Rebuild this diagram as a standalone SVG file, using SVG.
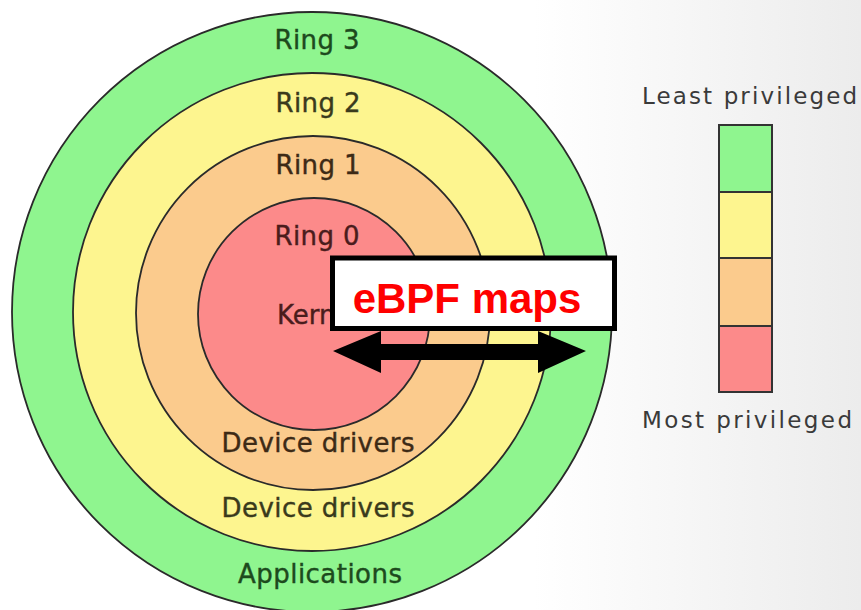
<svg xmlns="http://www.w3.org/2000/svg" width="861" height="610" viewBox="0 0 861 610">
  <defs>
    <linearGradient id="bg" x1="0" y1="0" x2="1" y2="0">
      <stop offset="0.62" stop-color="#ffffff"/>
      <stop offset="1" stop-color="#ececec"/>
    </linearGradient>
    <style>
      .ring { stroke: #2a2a2a; stroke-width: 1.8; }
      .lbl { font-family: "DejaVu Sans", "Liberation Sans", sans-serif; font-size: 26px; text-anchor: middle; stroke-width: 0.4; }
      .leg { font-family: "DejaVu Sans", "Liberation Sans", sans-serif; font-size: 23px; fill: #3a3a3a; }
      .g { fill: #8ff58f; } .y { fill: #fdf58f; } .o { fill: #fbcb8d; } .r { fill: #fc8a8a; }
    </style>
  </defs>
  <rect x="0" y="0" width="861" height="610" fill="url(#bg)"/>

  <g id="ring3">
    <circle class="ring g" cx="312" cy="312" r="300"/>
    <text class="lbl" x="317" y="49" fill="#1d4a1d" stroke="#1d4a1d" textLength="85" lengthAdjust="spacing">Ring 3</text>
    <text class="lbl" x="320" y="583" fill="#1d4a1d" stroke="#1d4a1d" textLength="164" lengthAdjust="spacing">Applications</text>
  </g>
  <g id="ring2">
    <circle class="ring y" cx="312" cy="312" r="239"/>
    <text class="lbl" x="318" y="112" fill="#3a3a1c" stroke="#3a3a1c" textLength="85" lengthAdjust="spacing">Ring 2</text>
    <text class="lbl" x="318" y="517" fill="#3a3a1c" stroke="#3a3a1c" textLength="193" lengthAdjust="spacing">Device drivers</text>
  </g>
  <g id="ring1">
    <circle class="ring o" cx="313" cy="313" r="177"/>
    <text class="lbl" x="318" y="174" fill="#3d2a16" stroke="#3d2a16" textLength="85" lengthAdjust="spacing">Ring 1</text>
    <text class="lbl" x="318" y="452" fill="#3d2a16" stroke="#3d2a16" textLength="193" lengthAdjust="spacing">Device drivers</text>
  </g>
  <g id="ring0">
    <circle class="ring r" cx="314" cy="314" r="116"/>
    <text class="lbl" x="317" y="245" fill="#4a1c1c" stroke="#4a1c1c" textLength="85" lengthAdjust="spacing">Ring 0</text>
    <text class="lbl" x="277" y="324" fill="#4a1c1c" stroke="#4a1c1c" style="text-anchor:start">Kern</text>
  </g>

  <g id="connectors">
    <path d="M333 351 L381 331 L381 344 L538 344 L538 331 L586 351 L538 373 L538 360 L381 360 L381 373 Z" fill="#000"/>
  </g>

  <g id="ebpf-maps">
    <rect x="332.5" y="258" width="282" height="70.5" fill="#fff" stroke="#000" stroke-width="5"/>
    <text x="467" y="313" font-family="'Liberation Sans', Arial, sans-serif" font-size="42" font-weight="bold" fill="#ff0000" text-anchor="middle">eBPF maps</text>
  </g>

  <g id="legend">
    <text class="leg" x="642" y="104" textLength="215" lengthAdjust="spacing">Least privileged</text>
    <rect class="g" x="719" y="125" width="53" height="67" stroke="#333" stroke-width="2"/>
    <rect class="y" x="719" y="192" width="53" height="66" stroke="#333" stroke-width="2"/>
    <rect class="o" x="719" y="258" width="53" height="68" stroke="#333" stroke-width="2"/>
    <rect class="r" x="719" y="326" width="53" height="66" stroke="#333" stroke-width="2"/>
    <text class="leg" x="642" y="428" textLength="210" lengthAdjust="spacing">Most privileged</text>
  </g>
</svg>
